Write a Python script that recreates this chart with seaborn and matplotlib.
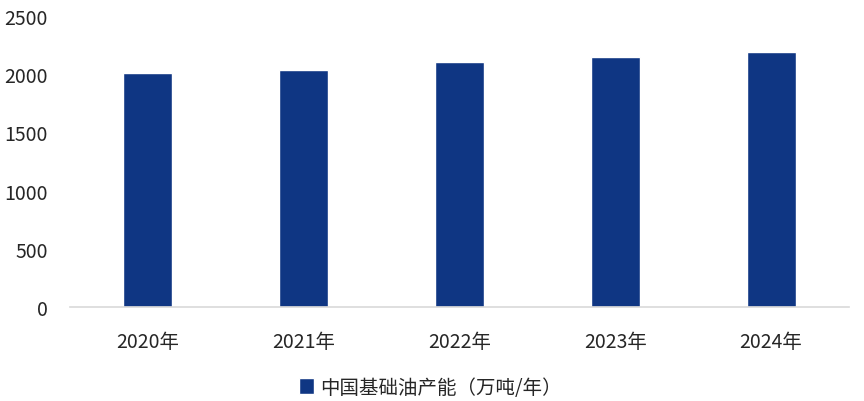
import matplotlib
matplotlib.use("Agg")
import matplotlib.pyplot as plt
import seaborn as sns
import pandas as pd

categories = ["2020年", "2021年", "2022年", "2023年", "2024年"]
values = [2005, 2035, 2105, 2150, 2185]
series_name = "中国基础油产能（万吨/年）"
yticks = [0, 500, 1000, 1500, 2000, 2500]

sns.set_theme(style="white")
plt.rcParams['font.family'] = ['Noto Sans CJK SC', 'DejaVu Sans']

df = pd.DataFrame({"year": categories, "value": values, "series": series_name})

fig = plt.figure(figsize=(8.64, 4.02), dpi=100)
ax = fig.add_axes([0.081, 0.233, 0.9016, 0.7255])

bar_color = "#0f3683"
sns.barplot(data=df, x="year", y="value", hue="series", palette=[bar_color],
            width=0.315, ax=ax, saturation=1, legend=True)

ax.set_ylim(0, 2500)
ax.set_xlim(-0.5, len(categories) - 0.5)
ax.set_yticks(yticks)
ax.set_yticklabels([str(t) for t in yticks], fontsize=14, color="#262626")
ax.tick_params(axis="x", labelsize=14, colors="#262626", pad=17, length=0)
ax.tick_params(axis="y", length=0, pad=16)
ax.set_xlabel("")
ax.set_ylabel("")
for s in ["top", "right", "left"]:
    ax.spines[s].set_visible(False)
ax.spines["bottom"].set_color("#d9d9d9")
ax.spines["bottom"].set_linewidth(1.2)
ax.grid(False)

leg = ax.legend(loc="center", bbox_to_anchor=(0.463, -0.275), frameon=False,
                fontsize=14, handlelength=0.75, handleheight=0.9, handletextpad=0.35)
for t in leg.get_texts():
    t.set_color("#262626")

fig.savefig("out.png", dpi=100)
